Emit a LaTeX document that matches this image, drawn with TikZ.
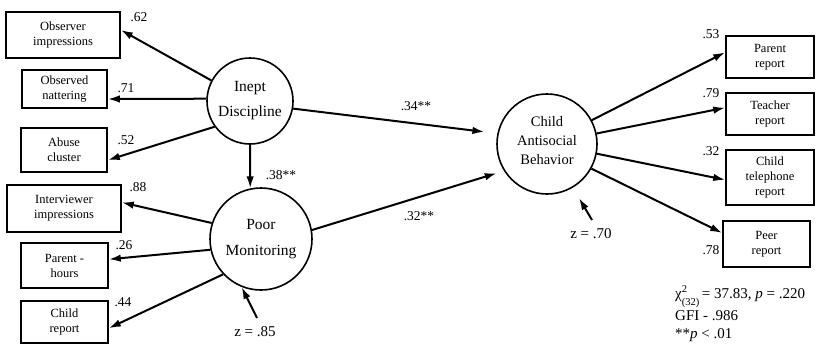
\documentclass[tikz,border=0pt]{standalone}
\usepackage{fontspec}
\setmainfont{Liberation Serif}
\usetikzlibrary{arrows.meta}
\begin{document}
\begin{tikzpicture}[x=1pt,y=-1pt,
  indicator/.style={draw, line width=1.6pt, rectangle, align=center, inner sep=0pt,
    font=\fontsize{12.5}{15}\selectfont},
  latent/.style={draw, line width=1.6pt, circle, inner sep=0pt, align=center},
  link/.style={line width=2pt, -{Latex[length=12pt,width=7.5pt]}},
  coef/.style={font=\fontsize{13.5}{14}\selectfont, inner sep=0pt},
  stat/.style={font=\fontsize{15}{18}\selectfont, inner sep=0pt, anchor=base west},
]
\useasboundingbox (0,0) rectangle (818,349);

% latent constructs
\node[latent, minimum size=86pt, font=\fontsize{15.5}{25}\selectfont] (ID) at (250,101) {Inept\\Discipline};
\node[latent, minimum size=102pt, font=\fontsize{15.5}{26}\selectfont] (PM) at (261,239) {Poor\\Monitoring};
\node[latent, minimum size=100pt, font=\fontsize{14.5}{19}\selectfont] (CAB) at (547,144) {Child\\Antisocial\\Behavior\rule[-8pt]{0pt}{8pt}};

% indicators of Inept Discipline
\node[indicator, minimum width=114pt, minimum height=46pt] (obsimp) at (63,35) {Observer\\impressions};
\node[indicator, minimum width=85pt, minimum height=38pt] (obsnat) at (64.5,89) {Observed\\nattering};
\node[indicator, minimum width=86pt, minimum height=44pt] (abuse) at (64,150) {Abuse\\cluster};

% indicators of Poor Monitoring
\node[indicator, minimum width=114pt, minimum height=47pt] (intimp) at (64,208.5) {Interviewer\\impressions};
\node[indicator, minimum width=87pt, minimum height=45pt] (parhrs) at (64.5,265.5) {Parent -\\hours};
\node[indicator, minimum width=87pt, minimum height=42pt] (chrep) at (64.5,322) {Child\\report};

% indicators of Child Antisocial Behavior
\node[indicator, minimum width=88pt, minimum height=42pt] (parrep) at (770,57) {Parent\\report};
\node[indicator, minimum width=88pt, minimum height=42pt] (teach) at (770,114) {Teacher\\report};
\node[indicator, minimum width=88pt, minimum height=55pt] (chtel) at (770,177.5) {Child\\telephone\\report};
\node[indicator, minimum width=87pt, minimum height=46pt] (peer) at (766.5,244) {Peer\\report};

% disturbance terms
\coordinate (z85) at (257,318);
\coordinate (z70) at (592,220);

% loadings
\draw[link] (ID.152) -- (obsimp.5);
\draw[link] (ID.177) -- (obsnat.-13);
\draw[link] (ID.216) -- (abuse.-13);
\draw[link] (PM.162) -- (intimp.6);
\draw[link] (PM.192) -- (parhrs.8);
\draw[link] (PM.223) -- (chrep.-8);
\draw[link] (CAB.28) -- (parrep.174);
\draw[link] (CAB.12) -- (teach.172);
\draw[link] (CAB.-11) -- (chtel.183);
\draw[link] (CAB.-29) -- (peer.166);

% structural paths
\draw[link] (ID.south) -- (PM.102);
\draw[link, shorten >=13pt] (ID.-10) -- (CAB.168);
\draw[link, shorten >=7.5pt] (PM.10) -- (CAB.212);
\draw[link] (z85) -- (PM.248);
\draw[link, shorten >=12pt] (z70) -- (CAB);

% coefficients
\node[coef] (l62) at (139,17) {.62};
\node[coef] (l71) at (126,88) {.71};
\node[coef] (l52) at (126,140) {.52};
\node[coef] (l38) at (281,175) {.38**};
\node[coef] (l88) at (138,187) {.88};
\node[coef] (l26) at (124,245) {.26};
\node[coef] (l44) at (123,302) {.44};
\node[coef, font=\fontsize{15}{16}\selectfont] (zpm) at (255,332) {z = .85};
\node[coef] (l34) at (416,106) {.34**};
\node[coef] (l32) at (419,216) {.32**};
\node[coef] (l53) at (711,34) {.53};
\node[coef] (l79) at (711,93) {.79};
\node[coef] (l32b) at (711,151) {.32};
\node[coef, font=\fontsize{15}{16}\selectfont] (zcab) at (591,234) {z = .70};
\node[coef] (l78) at (711,250) {.78};

% fit statistics
\node[stat] (fit1) at (675,298) {χ\makebox[0pt][l]{\raisebox{5.5pt}{\fontsize{10.5}{10.5}\selectfont 2}}\raisebox{-7pt}{\fontsize{10.5}{10.5}\selectfont (32)}\,= 37.83, \textit{p} = .220};
\node[stat] (fit2) at (675,320) {GFI - .986};
\node[stat] (fit3) at (675,338) {**\textit{p} < .01};
\end{tikzpicture}
\end{document}
